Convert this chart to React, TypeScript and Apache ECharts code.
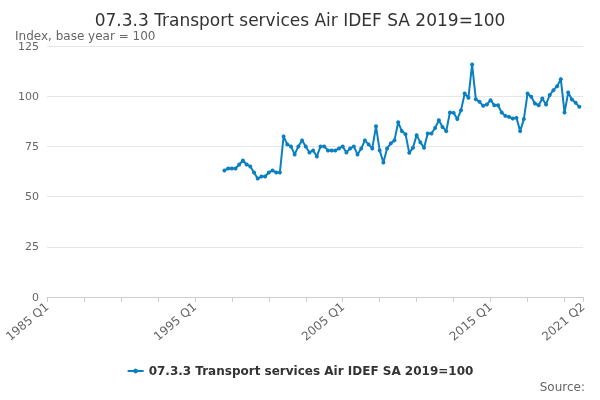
import { useEffect, useRef } from 'react'
import * as echarts from 'echarts'

const seriesName = '07.3.3 Transport services Air IDEF SA 2019=100'

// quarters 1985 Q1 .. 2021 Q2
const quarters: string[] = []
for (let y = 1985; y <= 2021; y++) {
  for (let q = 1; q <= 4; q++) {
    if (y === 2021 && q > 2) break
    quarters.push(`${y} Q${q}`)
  }
}

// values from 1997 Q1
const values = [
  63, 64, 64, 64, 66, 68, 66, 65, 62, 59, 60, 60, 62, 63, 62, 62, 80,
  76, 75, 71, 75, 78, 75, 72, 73, 70, 75, 75, 73, 73, 73, 74, 75, 72, 74, 75, 71, 74, 78, 76, 74, 85, 73, 67, 74,
  76.5, 78, 87, 82.6, 81, 71.8, 74.3, 80.6, 77, 74.3, 81.4, 81.4, 84.2, 88, 84.7, 82.6, 91.9, 91.7, 88.6, 93,
  101.3, 99.2, 115.8, 98.5, 97.2, 95.2, 95.9, 98, 95.5, 95.5, 91.9, 90.2, 89.7, 88.9, 89.2, 82.6, 88.6, 101.3,
  99.7, 96.4, 95.5, 98.9, 95.9, 100.6, 103, 105, 108.5, 91.9, 101.8, 98.4, 96.7, 94.7,
]

const startIndex = quarters.indexOf('1997 Q1')
const seriesData = quarters.map((_, i) => (i >= startIndex && i - startIndex < values.length ? values[i - startIndex] : null))

export default function App() {
  const ref = useRef<HTMLDivElement>(null)

  useEffect(() => {
    if (!ref.current) return
    const chart = echarts.init(ref.current, null, { renderer: 'svg' })
    const last = quarters.length - 1
    chart.setOption({
      animation: false,
      textStyle: { fontFamily: 'DejaVu Sans' },
      title: [
        {
          text: '07.3.3 Transport services Air IDEF SA 2019=100',
          left: 'center',
          top: 6,
          textStyle: { fontSize: 17, fontWeight: 'normal', color: '#333' },
        },
        {
          text: 'Index, base year = 100',
          left: 10,
          top: 25,
          textStyle: { fontSize: 12, fontWeight: 'normal', color: '#666' },
        },
        {
          text: 'Source:',
          right: 10,
          bottom: 2,
          textStyle: { fontSize: 12, fontWeight: 'normal', color: '#666' },
        },
      ],
      legend: {
        bottom: 18,
        left: 'center',
        data: [seriesName],
        textStyle: { fontWeight: 'bold', fontSize: 12, color: '#333' },
        itemWidth: 16,
        itemHeight: 6,
      },
      grid: { left: 47, right: 17, top: 46, bottom: 103 },
      xAxis: {
        type: 'category',
        data: quarters,
        boundaryGap: false,
        axisLine: { lineStyle: { color: '#ccc' } },
        axisTick: { interval: (i: number) => i % 10 === 0 || i === last, lineStyle: { color: '#ccc' } },
        axisLabel: {
          interval: (i: number) => i % 40 === 0 || i === last,
          rotate: 40,
          color: '#666',
          fontSize: 12,
        },
      },
      yAxis: {
        type: 'value',
        min: 0,
        max: 125,
        interval: 25,
        axisLabel: { color: '#666', fontSize: 11 },
        splitLine: { lineStyle: { color: '#e6e6e6' } },
      },
      series: [
        {
          name: seriesName,
          type: 'line',
          data: seriesData,
          color: '#0a7fc1',
          symbol: 'circle',
          symbolSize: 4,
          showSymbol: true,
          showAllSymbol: true,
          lineStyle: { width: 2 },
        },
      ],
    })
    return () => chart.dispose()
  }, [])

  return <div ref={ref} style={{ position: 'fixed', left: 0, top: 0, width: 600, height: 400 }} />
}
